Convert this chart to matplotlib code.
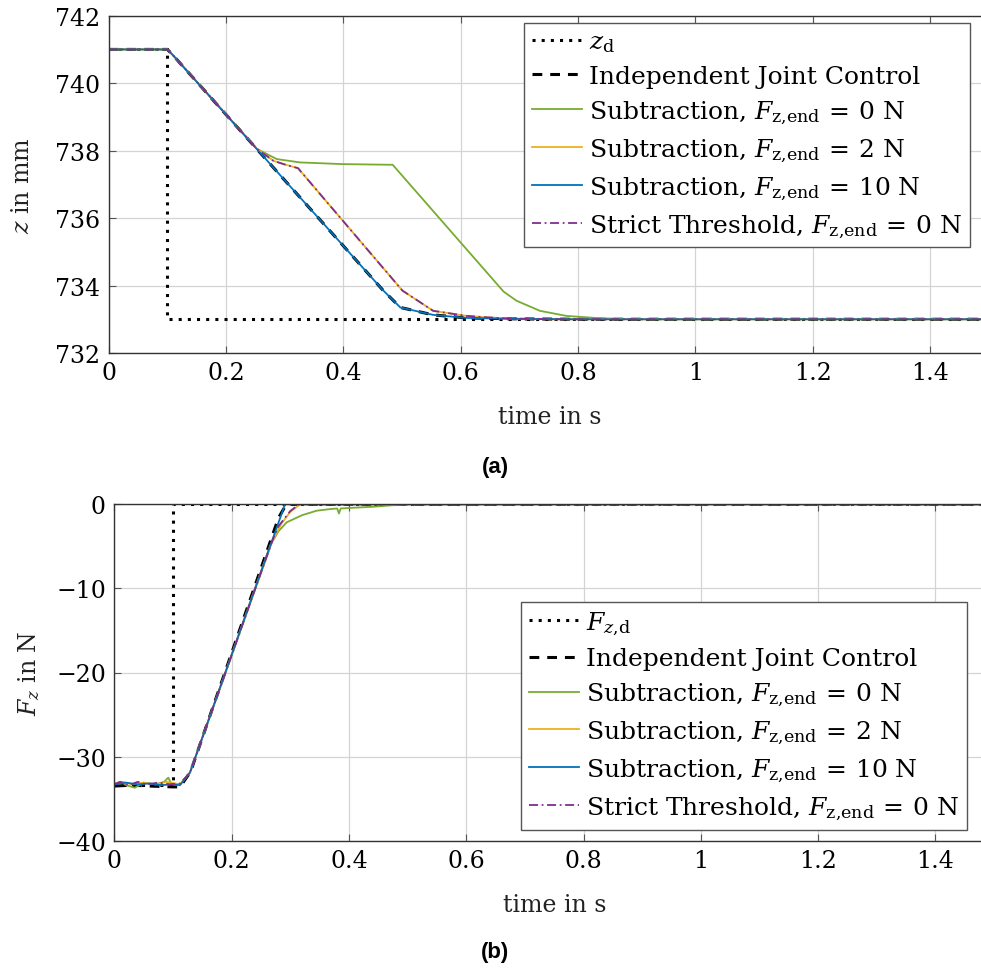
import matplotlib
matplotlib.use("Agg")
import matplotlib.pyplot as plt

plt.rcParams['font.family'] = ['DejaVu Serif']
plt.rcParams['mathtext.fontset'] = 'dejavuserif'
plt.rcParams['axes.unicode_minus'] = True

# ---------------- data: position (top) ----------------
t_zd = [0.0, 0.1, 0.1, 1.55]
z_d = [741.0, 741.0, 733.0, 733.0]

t_ijc = [0.0, 0.1, 0.11, 0.467, 0.497, 0.553, 0.61, 0.70, 0.80, 1.55]
z_ijc = [741.0, 741.0, 740.82, 733.87, 733.35, 733.13, 733.04, 733.01, 733.0, 733.0]

t_sub0 = [0.0, 0.1, 0.11, 0.2527, 0.2863, 0.326, 0.399, 0.484, 0.673, 0.695, 0.735, 0.780, 0.837, 0.9, 1.55]
z_sub0 = [741.0, 741.0, 740.82, 738.05, 737.75, 737.65, 737.6, 737.58, 733.82, 733.55, 733.25, 733.1, 733.03, 733.0, 733.0]

t_sub2 = [0.0, 0.1, 0.11, 0.2527, 0.2806, 0.298, 0.3226, 0.5006, 0.553, 0.61, 0.667, 0.75, 1.55]
z_sub2 = [741.0, 741.0, 740.82, 738.05, 737.7, 737.6, 737.48, 733.85, 733.25, 733.1, 733.03, 733.0, 733.0]

t_sub10 = [0.0, 0.1, 0.11, 0.467, 0.497, 0.553, 0.61, 0.70, 0.80, 1.55]
z_sub10 = [741.0, 741.0, 740.82, 733.87, 733.35, 733.13, 733.04, 733.01, 733.0, 733.0]

t_strict = [0.0, 0.1, 0.11, 0.2527, 0.2806, 0.298, 0.3226, 0.5006, 0.553, 0.61, 0.667, 0.75, 1.55]
z_strict = [741.0, 741.0, 740.82, 738.05, 737.7, 737.6, 737.48, 733.85, 733.25, 733.1, 733.03, 733.0, 733.0]

# ---------------- data: force (bottom) ----------------
t_fd = [0.0, 0.1, 0.1, 1.55]
f_d = [-33.4, -33.4, 0.0, 0.0]

t_f_ijc = [0.0, 0.03, 0.06, 0.1, 0.112, 0.13, 0.28, 0.29, 0.295, 1.55]
f_ijc = [-33.5, -33.4, -33.5, -33.6, -33.6, -31.8, -1.6, -0.4, 0.0, 0.0]

t_f_sub0 = [0.0, 0.012, 0.02, 0.035, 0.05, 0.07, 0.085, 0.092, 0.097, 0.112, 0.129, 0.2655, 0.28, 0.294, 0.32, 0.345, 0.37, 0.380, 0.383, 0.386, 0.41, 0.44, 0.476, 0.50, 1.55]
f_sub0 = [-33.2, -33.0, -33.4, -33.7, -33.1, -33.3, -33.0, -32.5, -33.2, -33.3, -31.9, -4.93, -3.2, -2.14, -1.3, -0.76, -0.55, -0.5, -1.1, -0.5, -0.4, -0.3, -0.1, 0.0, 0.0]

t_f_sub2 = [0.0, 0.015, 0.03, 0.05, 0.07, 0.09, 0.112, 0.129, 0.27, 0.285, 0.30, 0.317, 1.55]
f_sub2 = [-33.2, -33.0, -33.3, -33.1, -33.3, -33.0, -33.3, -31.9, -4.3, -2.3, -0.9, 0.0, 0.0]

t_f_sub10 = [0.0, 0.02, 0.04, 0.06, 0.08, 0.1, 0.112, 0.129, 0.291, 1.55]
f_sub10 = [-33.3, -33.1, -33.3, -33.2, -33.4, -33.3, -33.4, -31.9, 0.0, 0.0]

t_f_strict = [0.0, 0.01, 0.025, 0.04, 0.055, 0.075, 0.095, 0.112, 0.129, 0.27, 0.28, 0.30, 0.315, 1.55]
f_strict = [-33.3, -33.0, -33.4, -33.0, -33.3, -33.1, -33.3, -33.2, -31.9, -4.2, -2.6, -0.8, 0.0, 0.0]

# ---------------- labels ----------------
LBL_IJC = 'Independent Joint Control'
LBL_SUB0 = r'Subtraction, $F_{\mathrm{z{,}end}} \,=\, 0$ N'
LBL_SUB2 = r'Subtraction, $F_{\mathrm{z{,}end}} \,=\, 2$ N'
LBL_SUB10 = r'Subtraction, $F_{\mathrm{z{,}end}} \,=\, 10$ N'
LBL_STRICT = r'Strict Threshold, $F_{\mathrm{z{,}end}} \,=\, 0$ N'

# ---------------- styles ----------------
C_GREEN = '#77AC30'
C_YELLOW = '#EDB120'
C_BLUE = '#0072BD'
C_PURPLE = '#7E2F8E'

FS = 17
LFS = 18

fig = plt.figure(figsize=(9.81, 9.70), dpi=100)

def style_axes(ax, xlim, ylim, yticks):
    ax.set_xlim(*xlim)
    ax.set_ylim(*ylim)
    ax.set_xticks([0, 0.2, 0.4, 0.6, 0.8, 1.0, 1.2, 1.4])
    ax.set_xticklabels(['0', '0.2', '0.4', '0.6', '0.8', '1', '1.2', '1.4'])
    ax.set_yticks(yticks)
    ax.grid(True, color='#d4d4d4', linewidth=0.9)
    ax.set_axisbelow(True)
    ax.tick_params(direction='in', length=5, width=0.8, color='#555555',
                   top=True, right=True, labelsize=FS, pad=6)
    for s in ax.spines.values():
        s.set_color('#333333')
        s.set_linewidth(1.0)
    ax.set_xlabel('time in s', fontsize=FS, labelpad=15, color='#222222')

def add_legend(ax, loc, anchor):
    leg = ax.legend(loc=loc, bbox_to_anchor=anchor,
                    fontsize=LFS, frameon=True, fancybox=False, edgecolor='#555555', framealpha=1,
                    handlelength=2.0, handletextpad=0.3, labelspacing=0.42, borderpad=0.3, borderaxespad=0)
    leg.get_frame().set_linewidth(1.0)
    return leg

# top axes
ax1 = fig.add_axes([108.7/981, 1-354/970, (990-108.7)/981, (354-16.7)/970])
ax1.plot(t_zd, z_d, color='black', linestyle=(0, (1, 2)), linewidth=2.2, label=r'$z_{\mathrm{d}}$')
ax1.plot(t_ijc, z_ijc, color='black', linestyle=(0, (3.2, 2.6)), linewidth=2.2, label=LBL_IJC)
ax1.plot(t_sub0, z_sub0, color=C_GREEN, linewidth=1.3, label=LBL_SUB0)
ax1.plot(t_sub2, z_sub2, color=C_YELLOW, linewidth=1.3, label=LBL_SUB2)
ax1.plot(t_sub10, z_sub10, color=C_BLUE, linewidth=1.3, label=LBL_SUB10)
ax1.plot(t_strict, z_strict, color=C_PURPLE, linestyle=(0, (5, 2, 1, 2)), linewidth=1.3, label=LBL_STRICT)
style_axes(ax1, (0, 1.502), (732, 742), [732, 734, 736, 738, 740, 742])
ax1.set_ylabel(r'$z$ in mm', fontsize=FS, labelpad=15, color='#222222')
add_legend(ax1, 'upper right', ((970-108.7)/(990-108.7), (354-24)/(354-16.7)))

# bottom axes
ax2 = fig.add_axes([114.3/981, 1-841.7/970, (995.3-114.3)/981, (841.7-505.3)/970])
ax2.plot(t_fd, f_d, color='black', linestyle=(0, (1, 2)), linewidth=2.2, label=r'$F_{z{,}\mathrm{d}}$')
ax2.plot(t_f_ijc, f_ijc, color='black', linestyle=(0, (3.2, 2.6)), linewidth=2.2, label=LBL_IJC)
ax2.plot(t_f_sub0, f_sub0, color=C_GREEN, linewidth=1.3, label=LBL_SUB0)
ax2.plot(t_f_sub2, f_sub2, color=C_YELLOW, linewidth=1.3, label=LBL_SUB2)
ax2.plot(t_f_sub10, f_sub10, color=C_BLUE, linewidth=1.3, label=LBL_SUB10)
ax2.plot(t_f_strict, f_strict, color=C_PURPLE, linestyle=(0, (5, 2, 1, 2)), linewidth=1.3, label=LBL_STRICT)
style_axes(ax2, (0, 1.502), (-40, 0), [-40, -30, -20, -10, 0])
ax2.set_ylabel(r'$F_z$ in N', fontsize=FS, labelpad=10, color='#222222')
add_legend(ax2, 'lower right', ((966.7-114.3)/(995.3-114.3), (841.7-830.7)/(841.7-505.3)))

fig.text(495/981, 1-468/970, '(a)', fontsize=16, fontweight='bold', family='Liberation Sans', ha='center', va='center')
fig.text(495/981, 1-953/970, '(b)', fontsize=16, fontweight='bold', family='Liberation Sans', ha='center', va='center')

fig.savefig('out.png', dpi=100)
